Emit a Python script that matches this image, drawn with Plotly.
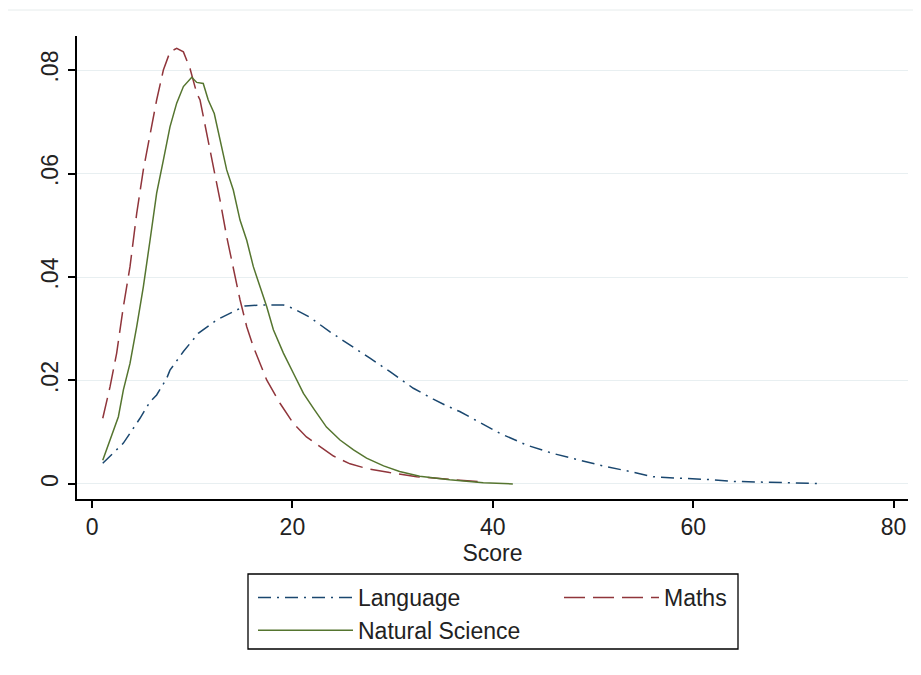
import plotly.graph_objects as go

# Kernel density estimates
lang_x = [1.07, 3.13, 4.79, 5.79, 6.45, 7.45, 7.78, 9.12, 10.6, 12.45, 14.1, 15.27, 17.1, 19.1,
          20.1, 21.75, 23.75, 25.75, 27.74, 29.74, 32.07, 34.06, 35.4, 36.7, 38.7, 40.7, 43.4,
          46.0, 48.7, 51.0, 53.7, 56.0, 58.7, 61.3, 64.0, 67.5, 72.5]
lang_y = [0.0040, 0.0079, 0.0127, 0.0159, 0.0172, 0.0204, 0.0220, 0.0256, 0.0291, 0.0317, 0.0333,
          0.0344, 0.0346, 0.0346, 0.0339, 0.0322, 0.0294, 0.0269, 0.0243, 0.0217, 0.0185, 0.0164,
          0.0151, 0.0140, 0.0119, 0.0098, 0.0075, 0.0059, 0.0046, 0.0035, 0.0024, 0.0014, 0.0011,
          0.0009, 0.0005, 0.0003, 0.0001]

maths_x = [1.07, 1.8, 2.46, 3.13, 3.79, 4.46, 5.12, 5.79, 6.45, 7.12, 7.78, 8.45, 9.12, 9.78,
           10.45, 10.78, 11.45, 12.1, 12.77, 13.44, 14.1, 14.77, 15.44, 16.1, 16.77, 17.43,
           18.76, 20.1, 21.4, 22.75, 24.1, 25.75, 27.4, 29.7, 32.4, 35.7, 38.9]
maths_y = [0.0127, 0.0188, 0.0253, 0.0343, 0.0420, 0.0523, 0.0607, 0.0678, 0.0742, 0.0800,
           0.0835, 0.0842, 0.0835, 0.0803, 0.0755, 0.0742, 0.0678, 0.0613, 0.0549, 0.0478,
           0.0420, 0.0356, 0.0304, 0.0265, 0.0233, 0.0201, 0.0156, 0.0117, 0.0091, 0.0072,
           0.0054, 0.0039, 0.0030, 0.0022, 0.0014, 0.0009, 0.0004]

sci_x = [1.07, 1.8, 2.63, 3.13, 3.79, 4.46, 5.12, 5.79, 6.45, 7.12, 7.78, 8.45, 9.12, 9.95,
         10.45, 11.1, 11.6, 12.2, 12.77, 13.44, 14.1, 14.77, 15.44, 16.1, 16.77, 17.43, 18.1,
         19.1, 20.1, 21.1, 22.1, 23.4, 24.75, 26.1, 27.4, 29.1, 30.7, 32.7, 35.7, 39.05, 42.0]
sci_y = [0.0046, 0.0085, 0.0130, 0.0182, 0.0233, 0.0304, 0.0381, 0.0471, 0.0562, 0.0626,
         0.0690, 0.0736, 0.0768, 0.0786, 0.0776, 0.0774, 0.0742, 0.0716, 0.0668, 0.0607,
         0.0568, 0.0510, 0.0471, 0.0420, 0.0381, 0.0343, 0.0298, 0.0253, 0.0214, 0.0175,
         0.0146, 0.0110, 0.0085, 0.0066, 0.0050, 0.0035, 0.0024, 0.0015, 0.0008, 0.00025, 0.0]

x_ticks = [0, 20, 40, 60, 80]
y_ticks = [0, 0.02, 0.04, 0.06, 0.08]
y_tick_labels = ["0", ".02", ".04", ".06", ".08"]

FONT = "Liberation Sans, Arial, sans-serif"

fig = go.Figure()
fig.add_trace(go.Scatter(x=lang_x, y=lang_y, mode="lines", name="Language",
                         line=dict(color="#1a476f", width=1.5, dash="13px,6px,2px,6px")))
fig.add_trace(go.Scatter(x=maths_x, y=maths_y, mode="lines", name="Maths",
                         line=dict(color="#90353b", width=1.5, dash="21px,8px")))
fig.add_trace(go.Scatter(x=sci_x, y=sci_y, mode="lines", name="Natural Science",
                         line=dict(color="#55752f", width=1.5)))

# page body has an 8px margin, so the figure is drawn 8px in from the window corner
OFF = 8
W, H = 921 - OFF, 675 - OFF
L, R, T, B = 77 - OFF, 13, 36 - OFF, 176
pw, ph = W - L - R, H - T - B


def px_x(p):
    return (p - OFF - L) / pw


def px_y(p):
    return (H - B - (p - OFF)) / ph


fig.update_layout(
    width=W, height=H,
    margin=dict(l=L, r=R, t=T, b=B),
    paper_bgcolor="white", plot_bgcolor="white",
    font=dict(family=FONT, size=23, color="#222222"),
    showlegend=True,
    legend=dict(orientation="h", x=px_x(253), y=px_y(576), xanchor="left", yanchor="top",
                bgcolor="rgba(0,0,0,0)", borderwidth=0, itemwidth=95, entrywidth=196,
                font=dict(family=FONT, size=23, color="#222222"), tracegroupgap=0),
    xaxis=dict(range=[-1.5, 81.44], tickvals=x_ticks, showgrid=False, zeroline=False,
               showline=True, linecolor="black", linewidth=1.5, ticks="outside",
               ticklen=7, tickcolor="black", tickwidth=1.5,
               title=dict(text="Score", standoff=0, font=dict(size=23))),
    yaxis=dict(range=[-0.0029, 0.08657], tickvals=y_ticks, ticktext=y_tick_labels,
               tickangle=-90, showgrid=True, gridcolor="#e8eff1", gridwidth=1,
               zeroline=False, showline=True, linecolor="black", linewidth=1.5,
               ticks="outside", ticklen=7, tickcolor="black", tickwidth=1.5,
               ticklabelstandoff=1),
    shapes=[
        dict(type="rect", xref="paper", yref="paper", x0=px_x(248), x1=px_x(738),
             y0=px_y(574), y1=px_y(649), line=dict(color="black", width=1.3)),
        dict(type="line", xref="paper", yref="paper", x0=px_x(8), x1=px_x(921),
             y0=px_y(10), y1=px_y(10), line=dict(color="#e6ecec", width=1)),
    ],
)

fig.write_html("out.html")
